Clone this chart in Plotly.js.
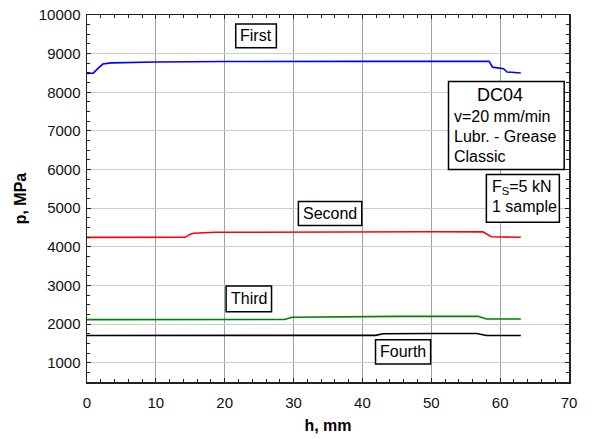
<!DOCTYPE html>
<html>
<head>
<meta charset="utf-8">
<script src="https://cdn.plot.ly/plotly-3.0.1.min.js"></script>
<style>html,body{margin:0;padding:0;background:#fff;}#chart{width:601px;height:439px;}</style>
</head>
<body>
<div id="chart"></div>
<script>
// Series data (h in mm, p in MPa)
const firstH  = [0, 0.9, 1.6, 2.3, 3.5, 6, 10, 20, 30, 40, 50, 58.4, 58.9, 60.5, 61.0, 63];
const firstP  = [8490, 8495, 8620, 8730, 8760, 8775, 8785, 8795, 8805, 8800, 8800, 8800, 8650, 8610, 8525, 8500];

const secondH = [0, 14.3, 14.9, 15.5, 18.5, 30, 40, 50, 57.5, 58.7, 63];
const secondP = [4243, 4245, 4320, 4350, 4375, 4385, 4390, 4390, 4385, 4260, 4245];

const thirdH  = [0, 10, 20, 28.7, 29.8, 35, 45, 50, 56.8, 58.0, 63];
const thirdP  = [2115, 2115, 2115, 2118, 2177, 2190, 2200, 2200, 2200, 2130, 2130];

const fourthH = [0, 41.9, 43.0, 45, 50, 56.6, 58.0, 63];
const fourthP = [1705, 1708, 1748, 1755, 1757, 1755, 1704, 1704];

// Labels
const seriesNames = ["First", "Second", "Third", "Fourth"];
const infoTitle = "DC04";
const infoLines = ["v=20 mm/min", "Lubr. - Grease", "Classic"];
const forceLines = ["F<sub>S</sub>=5 kN", "1 sample"];
const xTitle = "h, mm";
const yTitle = "p, MPa";

const FONT = "Liberation Sans, Arial, sans-serif";

const traces = [
  {x: firstH,  y: firstP,  color: "#0000ff"},
  {x: secondH, y: secondP, color: "#ff0000"},
  {x: thirdH,  y: thirdP,  color: "#008000"},
  {x: fourthH, y: fourthP, color: "#000000"}
].map((s, i) => ({
  type: "scatter", mode: "lines", x: s.x, y: s.y, name: seriesNames[i],
  line: {color: s.color, width: 1.6}, hoverinfo: "skip"
}));

// Label boxes (data coordinates)
const boxes = [
  {x0: 21.6, x1: 27.5, y0: 9154, y1: 9770},
  {x0: 30.7, x1: 39.9, y0: 4548, y1: 5174},
  {x0: 20.2, x1: 26.8, y0: 2318, y1: 2982},
  {x0: 41.9, x1: 49.9, y0: 965,  y1: 1591},
  {x0: 52.5, x1: 69.3, y0: 6000, y1: 8280},
  {x0: 58.0, x1: 68.6, y0: 4635, y1: 5870}
];
const shapes = boxes.map(b => ({
  type: "rect", xref: "x", yref: "y", x0: b.x0, x1: b.x1, y0: b.y0, y1: b.y1,
  fillcolor: "#ffffff", line: {color: "#000000", width: 1.5}, layer: "above"
}));

const annotations = [];
seriesNames.forEach((name, i) => {
  const b = boxes[i];
  annotations.push({x: (b.x0 + b.x1) / 2, y: (b.y0 + b.y1) / 2, xref: "x", yref: "y",
    text: name, showarrow: false, font: {family: FONT, size: 16, color: "#000"}});
});
annotations.push({x: 60.0, y: 7927, xref: "x", yref: "y", text: infoTitle, showarrow: false,
  font: {family: FONT, size: 18, color: "#000"}});
const infoY = [7365, 6865, 6326];
infoLines.forEach((t, i) => annotations.push({x: 53.0, y: infoY[i], xref: "x", yref: "y",
  xanchor: "left", text: t, showarrow: false, font: {family: FONT, size: 16, color: "#000"}}));
const forceY = [5544, 5036];
forceLines.forEach((t, i) => annotations.push({x: 58.5, y: forceY[i], xref: "x", yref: "y",
  xanchor: "left", text: t, showarrow: false, font: {family: FONT, size: 16, color: "#000"}}));

const layout = {
  width: 601, height: 439,
  margin: {l: 87, r: 32, t: 15, b: 57},
  paper_bgcolor: "#ffffff", plot_bgcolor: "#ffffff",
  showlegend: false,
  font: {family: FONT, size: 15, color: "#000"},
  xaxis: {
    range: [0, 70], dtick: 10, tick0: 0, tickformat: "d",
    ticks: "inside", ticklen: 4, tickcolor: "#222", mirror: "ticks",
    showline: true, linecolor: "#222", linewidth: 1.5,
    showgrid: true, gridcolor: "#a0a0a0", gridwidth: 1, zeroline: false,
    minor: {dtick: 2, ticks: "inside", ticklen: 3, tickcolor: "#222", showgrid: false},
    tickfont: {family: FONT, size: 15, color: "#111"},
    ticklabelstandoff: 6,
    title: {text: "<b>" + xTitle + "</b>", font: {family: FONT, size: 16, color: "#000"}, standoff: 10}
  },
  yaxis: {
    range: [500, 10000], dtick: 1000, tick0: 0, tickformat: "d",
    ticks: "inside", ticklen: 4, tickcolor: "#222", mirror: "ticks",
    showline: true, linecolor: "#222", linewidth: 1.5,
    showgrid: true, gridcolor: "#cccccc", gridwidth: 1, zeroline: false,
    minor: {dtick: 250, ticks: "inside", ticklen: 3, tickcolor: "#222", showgrid: false},
    tickfont: {family: FONT, size: 15, color: "#111"},
    ticklabelstandoff: 2,
    title: {text: "<b>" + yTitle + "</b>", font: {family: FONT, size: 16, color: "#000"}, standoff: 8}
  },
  shapes: shapes,
  annotations: annotations
};

Plotly.newPlot("chart", traces, layout, {staticPlot: true, displayModeBar: false});
</script>
</body>
</html>
